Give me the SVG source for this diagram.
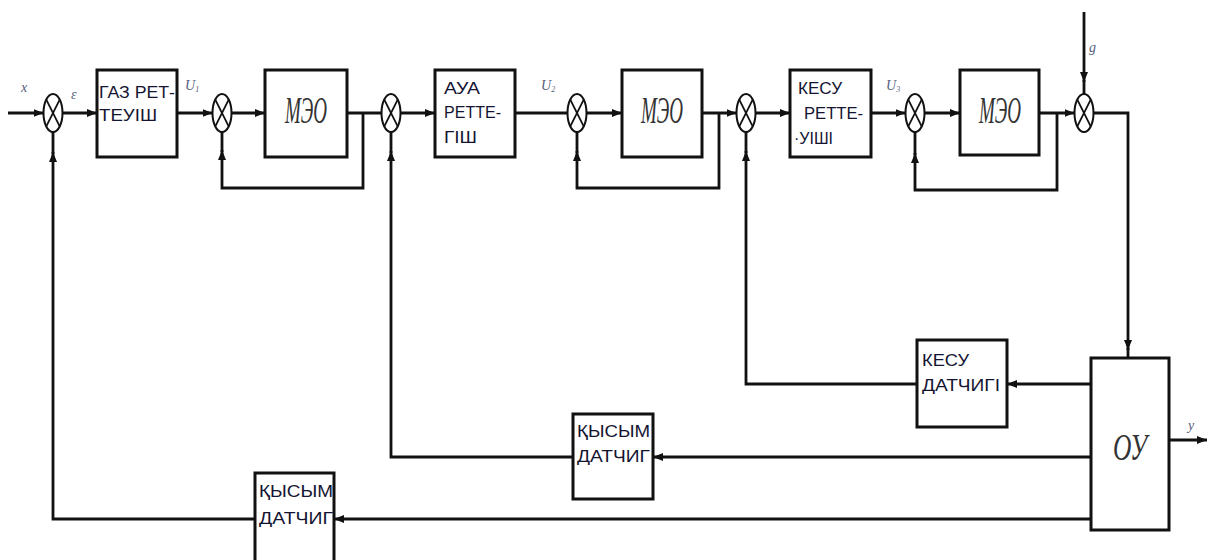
<svg xmlns="http://www.w3.org/2000/svg" width="1209" height="560" viewBox="0 0 1209 560">
<defs>
<style>
.box{fill:#fff;stroke:#111;stroke-width:3}
.ln{fill:none;stroke:#111;stroke-width:2.8}
.arr{fill:none;stroke:#111;stroke-width:2.8;marker-end:url(#ah)}
.sum{fill:#fff;stroke:#111;stroke-width:2}
.lbl{font-family:"Liberation Sans",Arial,sans-serif;font-size:16px;fill:#141432}
.mo{font-family:"Liberation Serif","Times New Roman",serif;font-style:italic;font-size:38px;fill:#333;text-anchor:middle}
.sm{font-family:"Liberation Serif","Times New Roman",serif;font-style:italic;font-size:14px;fill:#55607a}
</style>
<marker id="ah" viewBox="0 0 10 8" refX="10" refY="4" markerWidth="10" markerHeight="8" markerUnits="userSpaceOnUse" orient="auto">
<path d="M0 0 L10 4 L0 8 Z" fill="#111"/>
</marker>
<g id="sumshape">
<ellipse cx="0" cy="0" rx="9.5" ry="19" class="sum"/>
<path d="M-6.7 -13.4 L6.7 13.4 M6.7 -13.4 L-6.7 13.4" stroke="#111" stroke-width="1.8"/>
</g>
</defs>

<g id="connectors">
<path class="arr" d="M8 113 H43.5"/>
<path class="arr" d="M62.5 113 H97"/>
<path class="arr" d="M177 113 H212.5"/>
<path class="arr" d="M231.5 113 H265"/>
<path class="ln" d="M347 113 H381.5"/>
<path class="arr" d="M400.5 113 H435"/>
<path class="ln" d="M515 113 H567.5"/>
<path class="arr" d="M586.5 113 H622"/>
<path class="arr" d="M702 113 H736.5"/>
<path class="arr" d="M755.5 113 H790"/>
<path class="arr" d="M871 113 H905.5"/>
<path class="arr" d="M924.5 113 H960"/>
<path class="arr" d="M1039 113 H1074.5"/>
<path class="arr" d="M1084 12 V82"/>
<path class="ln" d="M1084 80 V94"/>
<path class="arr" d="M1093.5 113 H1128 V350"/>
<path class="ln" d="M1128 348 V358"/>
<!-- local loops -->
<path class="arr" d="M363 113 V188 H222 V150"/>
<path class="ln" d="M222 152 V132"/>
<path class="arr" d="M719 113 V188 H577 V151"/>
<path class="ln" d="M577 153 V132"/>
<path class="arr" d="M1057 113 V190 H915 V153"/>
<path class="ln" d="M915 155 V132"/>
<!-- long feedback -->
<path class="arr" d="M1091 384 H1007"/>
<path class="arr" d="M917 384 H746 V151"/>
<path class="ln" d="M746 153 V132"/>
<path class="arr" d="M1091 457 H653"/>
<path class="arr" d="M573 457 H391 V151"/>
<path class="ln" d="M391 153 V132"/>
<path class="arr" d="M1091 519 H334"/>
<path class="arr" d="M255 519 H53 V152"/>
<path class="ln" d="M53 154 V132"/>
<path class="arr" d="M1169 440 H1207"/>
</g>

<g id="sum1"><use href="#sumshape" x="53" y="113"/></g>
<g id="sum2"><use href="#sumshape" x="222" y="113"/></g>
<g id="sum3"><use href="#sumshape" x="391" y="113"/></g>
<g id="sum4"><use href="#sumshape" x="577" y="113"/></g>
<g id="sum5"><use href="#sumshape" x="746" y="113"/></g>
<g id="sum6"><use href="#sumshape" x="915" y="113"/></g>
<g id="sum7"><use href="#sumshape" x="1084" y="113"/></g>

<g id="gaz">
<rect class="box" x="97" y="70" width="80" height="87"/>
<text class="lbl" x="99" y="98" textLength="76" lengthAdjust="spacingAndGlyphs">ГАЗ РЕТ-</text>
<text class="lbl" x="99" y="121" textLength="58" lengthAdjust="spacingAndGlyphs">ТЕУІШ</text>
</g>
<g id="meo1">
<rect class="box" x="265" y="70" width="82" height="87"/>
<text class="mo" x="306" y="123" textLength="42" lengthAdjust="spacingAndGlyphs">МЭО</text>
</g>
<g id="aua">
<rect class="box" x="435" y="70" width="80" height="87"/>
<text class="lbl" x="444" y="94" textLength="36" lengthAdjust="spacingAndGlyphs">АУА</text>
<text class="lbl" x="444" y="118" textLength="57" lengthAdjust="spacingAndGlyphs">РЕТТЕ-</text>
<text class="lbl" x="444" y="143" textLength="33" lengthAdjust="spacingAndGlyphs">ГІШ</text>
</g>
<g id="meo2">
<rect class="box" x="622" y="70" width="80" height="87"/>
<text class="mo" x="662" y="123" textLength="42" lengthAdjust="spacingAndGlyphs">МЭО</text>
</g>
<g id="kesu">
<rect class="box" x="790" y="70" width="81" height="87"/>
<text class="lbl" x="798" y="94" textLength="44" lengthAdjust="spacingAndGlyphs">КЕСУ</text>
<text class="lbl" x="804" y="119" textLength="59" lengthAdjust="spacingAndGlyphs">РЕТТЕ-</text>
<text class="lbl" x="794" y="144">·УІШІ</text>
</g>
<g id="meo3">
<rect class="box" x="960" y="70" width="79" height="85"/>
<text class="mo" x="1000" y="123" textLength="42" lengthAdjust="spacingAndGlyphs">МЭО</text>
</g>
<g id="ou">
<rect class="box" x="1091" y="358" width="78" height="172"/>
<text class="mo" x="1130" y="460" font-size="42" textLength="34" lengthAdjust="spacingAndGlyphs">ОУ</text>
</g>
<g id="kesu-d">
<rect class="box" x="917" y="340" width="90" height="87"/>
<text class="lbl" x="922" y="366" textLength="47" lengthAdjust="spacingAndGlyphs">КЕСУ</text>
<text class="lbl" x="922" y="391" textLength="78" lengthAdjust="spacingAndGlyphs">ДАТЧИГІ</text>
</g>
<g id="kysym2">
<rect class="box" x="573" y="414" width="80" height="85"/>
<text class="lbl" x="577" y="437" textLength="73" lengthAdjust="spacingAndGlyphs">ҚЫСЫМ</text>
<text class="lbl" x="577" y="462" textLength="73" lengthAdjust="spacingAndGlyphs">ДАТЧИГ</text>
</g>
<g id="kysym1">
<rect class="box" x="255" y="473" width="79" height="95"/>
<text class="lbl" x="259" y="497" textLength="74" lengthAdjust="spacingAndGlyphs">ҚЫСЫМ</text>
<text class="lbl" x="259" y="524" textLength="74" lengthAdjust="spacingAndGlyphs">ДАТЧИГ</text>
</g>

<g id="labels">
<text class="sm" x="21" y="92">x</text>
<text class="sm" x="71" y="99" font-size="16">ε</text>
<text class="sm" x="185" y="90">U<tspan font-size="8" dy="2">1</tspan></text>
<text class="sm" x="541" y="90">U<tspan font-size="8" dy="2">2</tspan></text>
<text class="sm" x="886" y="90">U<tspan font-size="8" dy="2">3</tspan></text>
<text class="sm" x="1089" y="52" font-size="15">g</text>
<text class="sm" x="1188" y="430" font-size="15">y</text>
</g>
</svg>
